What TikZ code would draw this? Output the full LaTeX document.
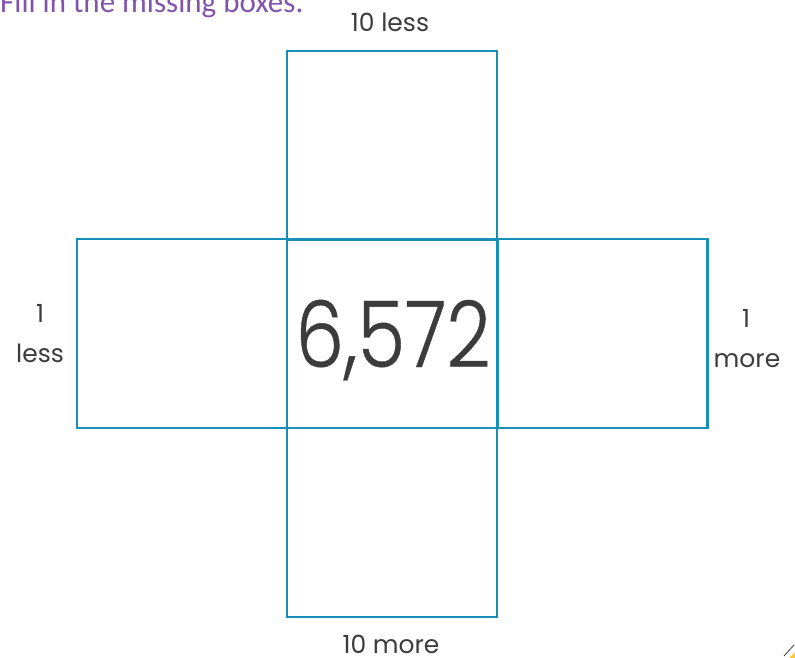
\documentclass[tikz,border=0pt]{standalone}
\usepackage{fontspec}
\setmainfont{Carlito}
\newfontfamily\hw{Poppins}
\newfontfamily\hwnum[FakeStretch=0.84,FakeBold=0.4]{Poppins Light}
\definecolor{boxblue}{RGB}{24,143,184}
\definecolor{titlepurple}{RGB}{128,84,170}
\definecolor{inkgrey}{RGB}{60,60,60}
\definecolor{penyellow}{RGB}{250,200,60}
\begin{document}
\begin{tikzpicture}[x=1pt,y=-1pt,
  cell/.style={draw=boxblue,line width=2.8pt,minimum width=210pt,minimum height=189pt,inner sep=0pt,outer sep=0pt},
  lbl/.style={text=inkgrey,inner sep=0pt,font=\hw\fontsize{25}{25}\selectfont}]
\useasboundingbox (0,0) rectangle (795,658);
\node[cell] (top) at (392,145.5) {};
\node[cell] (left) at (182,333.5) {};
\node[cell] (right) at (602.5,333.5) {};
\node[cell] (bottom) at (392,522.5) {};
\node[cell] (center) at (392,333.5) {};
\node[anchor=base,text=inkgrey,inner sep=0pt,font=\hwnum\fontsize{92}{92}\selectfont] (num) at (393,367) {6,572};
\node[anchor=base west,text=titlepurple,inner sep=0pt,font=\fontsize{31}{31}\selectfont] (title) at (0,13) {Fill in the missing boxes.};
\node[lbl,anchor=base] (tl) at (390,32) {10 less};
\node[lbl,anchor=base] (bl) at (391,653) {10 more};
\node[lbl,anchor=base] (l1) at (40,322) {1};
\node[lbl,anchor=base] (l2) at (40,362) {less};
\node[lbl,anchor=base] (r1) at (746,327) {1};
\node[lbl,anchor=base] (r2) at (747,367) {more};
\coordinate (pa) at (784,656);
\coordinate (pb) at (794,645);
\fill[penyellow] (789,658) -- (795,652) -- (795,658) -- cycle;
\draw[inkgrey,line width=0.8pt] (pa) -- (pb);
\end{tikzpicture}
\end{document}
